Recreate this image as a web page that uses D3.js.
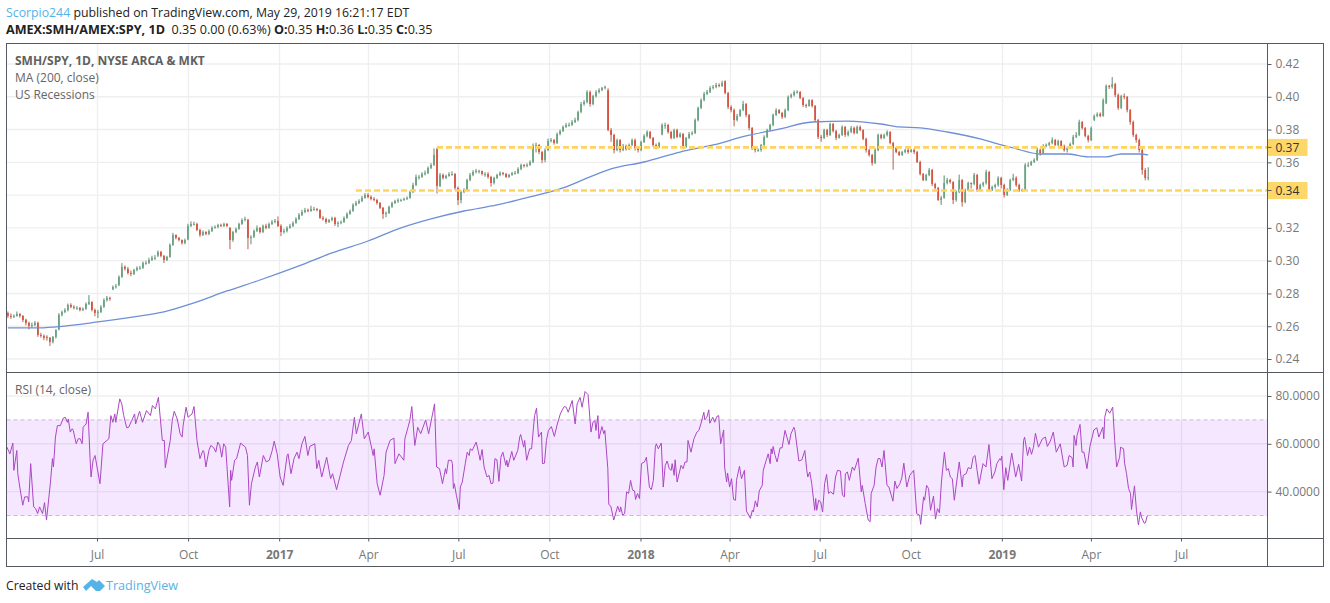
<!DOCTYPE html>
<html>
<head>
<meta charset="utf-8">
<script src="https://cdn.jsdelivr.net/npm/d3@7"></script>
<style>
  html, body { margin: 0; padding: 0; background: #fff; }
  svg { display: block; }
  text { font-family: "Open Sans", "Noto Sans", sans-serif; }
  .domain { display: none; }
</style>
</head>
<body>
<svg id="chart" width="1330" height="603"></svg>
<script>
// price values are in units of 0.0001, one candle per row slot
var opens = [
  2680,2663,2657,2663,2675,2663,2640,2620,2602,2608,
  2620,2547,2541,2535,2529,2504,2535,2580,2669,2687,
  2699,2730,2718,2712,2712,2699,2706,2736,2748,2699,
  2681,2687,2718,2760,2773,2825,2840,2850,2901,2962,
  2950,2925,2919,2944,2956,2956,2986,2986,3004,3017,
  3030,3053,3029,3004,3023,3096,3157,3139,3126,3108,
  3130,3212,3224,3224,3187,3157,3175,3163,3181,3200,
  3206,3218,3212,3224,3200,3126,3175,3194,3224,3248,
  3250,3139,3145,3181,3200,3175,3212,3200,3224,3236,
  3242,3212,3175,3181,3200,3212,3230,3254,3279,3297,
  3309,3303,3315,3315,3309,3261,3254,3236,3248,3261,
  3224,3230,3236,3261,3285,3303,3340,3352,3364,3383,
  3401,3389,3377,3370,3352,3322,3285,3291,3328,3352,
  3364,3370,3370,3377,3383,3419,3462,3511,3511,3529,
  3535,3566,3584,3680,3456,3523,3505,3517,3529,3529,
  3444,3370,3419,3431,3492,3523,3541,3547,3547,3529,
  3529,3511,3474,3505,3523,3535,3529,3511,3523,3535,
  3535,3560,3584,3578,3584,3602,3700,3706,3663,3614,
  3675,3730,3736,3718,3773,3791,3816,3828,3828,3846,
  3858,3907,3956,3968,4029,3956,4005,4029,4041,4054,
  4040,3797,3767,3675,3736,3675,3700,3681,3706,3736,
  3688,3675,3724,3761,3785,3749,3706,3694,3770,3828,
  3828,3785,3749,3797,3755,3773,3694,3749,3773,3779,
  3858,3932,3980,4017,4029,4054,4060,4072,4066,4095,
  4023,3938,3919,3858,3883,3919,3956,3889,3810,3688,
  3675,3675,3706,3755,3797,3828,3889,3919,3901,3877,
  3919,3999,4011,4029,4029,3993,3950,3944,3980,3944,
  3858,3755,3749,3797,3767,3834,3791,3749,3767,3816,
  3767,3785,3810,3779,3816,3797,3743,3675,3645,3596,
  3675,3767,3749,3767,3785,3718,3688,3663,3645,3663,
  3675,3663,3675,3663,3602,3529,3492,3523,3553,3468,
  3444,3370,3383,3474,3492,3480,3370,3419,3492,3358,
  3431,3474,3468,3523,3431,3462,3474,3541,3431,3450,
  3462,3505,3462,3401,3431,3492,3505,3462,3431,3431,
  3584,3584,3602,3614,3675,3657,3700,3706,3718,3736,
  3706,3730,3700,3675,3688,3712,3755,3767,3846,3810,
  3761,3736,3860,3883,3895,3883,3960,4066,4060,4078,
  4011,3932,4005,3999,3919,3846,3767,3736,3675,3553,
  3505
];
var highs = [
  2690,2678,2672,2690,2680,2668,2645,2628,2622,2632,
  2628,2560,2550,2545,2535,2540,2582,2680,2695,2710,
  2738,2740,2728,2722,2718,2715,2745,2790,2752,2708,
  2700,2728,2770,2785,2780,2848,2858,2910,2985,2972,
  2962,2940,2950,2965,2968,2995,3000,3018,3030,3034,
  3062,3060,3035,3030,3105,3170,3160,3145,3130,3135,
  3225,3240,3238,3232,3195,3185,3180,3190,3210,3215,
  3225,3226,3232,3230,3205,3182,3202,3232,3258,3268,
  3255,3155,3190,3215,3205,3220,3225,3232,3248,3255,
  3270,3222,3195,3210,3225,3240,3265,3290,3310,3322,
  3318,3335,3328,3322,3315,3272,3262,3255,3268,3268,
  3240,3245,3270,3295,3312,3350,3365,3375,3395,3412,
  3412,3398,3388,3378,3358,3328,3300,3335,3360,3372,
  3380,3378,3385,3392,3428,3475,3525,3522,3540,3550,
  3575,3595,3685,3690,3535,3532,3525,3540,3545,3535,
  3452,3428,3442,3500,3535,3552,3560,3555,3550,3540,
  3540,3518,3512,3530,3545,3542,3535,3530,3542,3548,
  3570,3592,3590,3595,3612,3715,3720,3712,3670,3685,
  3745,3748,3742,3782,3800,3825,3840,3842,3858,3872,
  3915,3968,3980,4040,4038,4012,4040,4052,4060,4068,
  4052,3810,3775,3745,3742,3712,3708,3715,3745,3745,
  3695,3732,3772,3795,3792,3755,3715,3725,3838,3842,
  3835,3792,3805,3805,3782,3780,3755,3785,3790,3868,
  3940,3990,4030,4042,4065,4072,4085,4082,4098,4100,
  4030,3948,3928,3895,3925,3975,3962,3895,3815,3695,
  3685,3712,3765,3805,3835,3898,3930,3925,3908,3928,
  4008,4020,4038,4040,4035,3998,3958,3985,3985,3950,
  3865,3768,3805,3805,3842,3840,3798,3775,3825,3822,
  3795,3822,3818,3825,3825,3802,3750,3682,3652,3685,
  3775,3775,3775,3795,3790,3725,3695,3670,3670,3682,
  3690,3682,3685,3670,3610,3535,3530,3565,3560,3475,
  3450,3395,3520,3505,3500,3485,3428,3525,3498,3440,
  3482,3478,3535,3530,3470,3482,3555,3548,3458,3470,
  3515,3512,3470,3442,3500,3530,3515,3470,3440,3595,
  3600,3610,3625,3690,3684,3710,3715,3726,3752,3742,
  3738,3735,3708,3695,3720,3768,3785,3860,3852,3815,
  3768,3818,3892,3905,3905,3990,4075,4072,4120,4085,
  4020,4012,4020,4005,3925,3855,3775,3745,3690,3565,
  3570
];
var lows = [
  2650,2645,2650,2658,2652,2625,2605,2580,2590,2600,
  2535,2530,2515,2512,2480,2495,2525,2575,2660,2680,
  2690,2710,2702,2700,2690,2692,2700,2730,2690,2660,
  2650,2680,2712,2750,2755,2820,2830,2845,2895,2940,
  2915,2905,2912,2935,2945,2950,2975,2980,2998,3005,
  3022,3020,2985,2998,3018,3090,3130,3118,3098,3100,
  3125,3205,3215,3180,3145,3150,3155,3155,3175,3195,
  3198,3205,3205,3205,3070,3115,3168,3188,3218,3240,
  3070,3100,3138,3175,3165,3168,3192,3195,3218,3228,
  3205,3150,3165,3172,3195,3205,3225,3248,3272,3290,
  3295,3298,3305,3300,3255,3245,3225,3230,3240,3212,
  3205,3222,3230,3255,3280,3298,3332,3345,3358,3378,
  3380,3368,3362,3342,3315,3255,3265,3285,3322,3345,
  3352,3360,3365,3370,3378,3412,3455,3495,3505,3520,
  3528,3558,3578,3410,3448,3495,3498,3512,3518,3430,
  3340,3350,3412,3425,3485,3515,3532,3532,3520,3512,
  3500,3452,3465,3498,3515,3520,3505,3505,3518,3525,
  3528,3552,3568,3570,3578,3595,3660,3650,3595,3600,
  3668,3722,3708,3712,3765,3785,3810,3818,3822,3840,
  3850,3900,3945,3960,3940,3948,3995,4020,4035,4045,
  3790,3725,3655,3668,3660,3668,3672,3675,3700,3672,
  3660,3668,3718,3752,3742,3695,3680,3688,3765,3805,
  3775,3740,3742,3748,3750,3680,3688,3742,3765,3772,
  3850,3925,3972,4010,4022,4045,4052,4058,4060,4015,
  3925,3905,3820,3850,3878,3912,3875,3795,3675,3660,
  3665,3665,3700,3748,3790,3820,3882,3895,3865,3870,
  3912,3990,4002,4020,3985,3938,3932,3940,3935,3845,
  3742,3725,3742,3755,3760,3782,3735,3745,3760,3755,
  3758,3778,3770,3772,3790,3735,3660,3635,3580,3590,
  3668,3740,3742,3758,3710,3555,3655,3638,3640,3655,
  3652,3660,3650,3595,3520,3485,3485,3515,3455,3435,
  3365,3340,3378,3465,3470,3345,3360,3412,3330,3350,
  3425,3440,3460,3420,3425,3450,3465,3425,3425,3440,
  3452,3440,3385,3395,3425,3485,3450,3420,3420,3425,
  3570,3578,3596,3608,3640,3650,3692,3700,3710,3700,
  3698,3692,3665,3660,3680,3705,3748,3760,3800,3752,
  3722,3730,3852,3875,3875,3878,3955,4048,4050,3998,
  3920,3925,3985,3905,3830,3755,3720,3660,3525,3490,
  3490
];
var closes = [
  2663,2657,2663,2675,2663,2638,2620,2602,2608,2620,
  2547,2541,2529,2529,2504,2535,2577,2669,2687,2699,
  2730,2718,2712,2712,2699,2706,2736,2748,2699,2681,
  2687,2718,2760,2773,2767,2840,2846,2901,2962,2950,
  2925,2919,2944,2956,2956,2986,2986,3004,3017,3017,
  3053,3029,3004,3023,3096,3157,3139,3126,3108,3126,
  3212,3224,3224,3187,3157,3175,3163,3181,3200,3206,
  3218,3212,3224,3212,3126,3175,3194,3224,3248,3254,
  3139,3145,3181,3200,3175,3212,3200,3224,3236,3242,
  3212,3175,3181,3200,3212,3230,3254,3279,3297,3309,
  3303,3315,3315,3309,3261,3254,3236,3248,3261,3224,
  3230,3236,3261,3285,3303,3340,3352,3364,3383,3401,
  3389,3377,3370,3352,3322,3285,3291,3328,3352,3364,
  3370,3370,3377,3383,3419,3462,3511,3511,3529,3535,
  3566,3584,3645,3456,3523,3505,3517,3529,3529,3444,
  3370,3419,3431,3492,3523,3541,3547,3547,3529,3529,
  3511,3474,3505,3523,3535,3529,3511,3523,3535,3535,
  3560,3584,3578,3584,3602,3700,3706,3663,3614,3675,
  3730,3736,3718,3773,3791,3816,3828,3828,3846,3858,
  3907,3956,3968,4029,3956,4005,4029,4041,4054,4060,
  3797,3767,3675,3736,3675,3700,3681,3706,3736,3688,
  3675,3724,3761,3785,3749,3706,3694,3718,3828,3828,
  3785,3749,3797,3755,3773,3694,3749,3773,3779,3858,
  3932,3980,4017,4029,4054,4060,4072,4066,4084,4023,
  3938,3919,3858,3883,3919,3956,3889,3810,3688,3675,
  3675,3706,3755,3797,3828,3889,3919,3901,3877,3919,
  3999,4011,4029,4029,3993,3950,3944,3980,3944,3858,
  3755,3749,3797,3767,3834,3791,3749,3767,3816,3767,
  3785,3810,3779,3816,3797,3743,3675,3645,3596,3675,
  3767,3749,3767,3785,3718,3688,3663,3645,3663,3675,
  3663,3675,3663,3602,3529,3492,3523,3553,3468,3444,
  3370,3383,3474,3492,3480,3370,3419,3492,3358,3431,
  3474,3468,3523,3431,3462,3474,3541,3431,3450,3462,
  3505,3462,3401,3431,3492,3505,3462,3431,3431,3584,
  3584,3602,3614,3675,3657,3700,3706,3718,3736,3706,
  3730,3700,3675,3688,3712,3755,3767,3846,3810,3761,
  3736,3810,3883,3895,3883,3980,4066,4060,4078,4011,
  3932,4005,3999,3919,3846,3767,3736,3675,3553,3505,
  3510
];

// 200 day MA, read at a set of candle slots
var maBars = [0,11,16,30,42,52,61,73,84,97,108,120,131,141,152,163,174,185,194,201,212,224,235,246,257,268,280,291,297,304,313,324,331,335,344,353,360,366,371,377,380];
var maValues = [2590,2590,2596,2626,2657,2687,2736,2815,2882,2968,3047,3120,3200,3255,3303,3340,3389,3444,3511,3560,3602,3663,3706,3761,3803,3846,3852,3834,3816,3810,3785,3743,3706,3688,3651,3651,3633,3633,3651,3651,3645];

// RSI, days counted from chart start
var rsiDays = [
  0,3,6,7,10,11,13,16,18,21,22,24,27,29,31,33,36,38,40,44,46,47,49,51,54,57,59,61,62,64,66,67,70,72,74,76,77,80,82,84,85,87,89,94,97,103,105,107,109,110,114,116,118,121,123,126,129,130,134,137,141,145,147,150,153,157,159,160,165,167,169,172,175,177,178,181,183,187,189,192,195,198,199,201,204,206,209,211,213,215,217,219,221,225,226,227,230,232,236,241,243,245,247,251,253,255,259,262,265,268,270,273,276,279,283,284,287,290,293,295,298,301,304,306,311,313,315,318,323,327,329,333,340,345,348,351,353,358,361,365,370,371,374,377,381,383,387,391,392,396,401,402,407,409,412,415,418,423,426,432,434,437,440,443,444,446,
  449,450,451,452,454,457,458,460,463,465,467,468,470,474,476,478,480,482,485,487,489,491,493,495,497,499,501,504,505,506,510,512,516,518,519,522,523,525,528,530,533,535,537,540,541,543,545,547,550,553,556,559,561,563,565,567,571,574,576,579,581,584,587,590,592,594,595,597,598,601,603,604,607,608,610,613,617,619,620,622,624,626,628,630,632,634,635,637,639,641,644,646,649,651,653,655,656,658,661,663,665,667,669,671,672,674,675,677,681,683,685,687,688,691,694,697,699,701,704,705,707,709,710,713,715,717,719,721,724,725,727,728,730,732,734,736,737,740,742,745,747,751,753,754,756,758,760,763,764,767,769,771,772,773,774,776,778,781,783,786,790,792,795,796,800,803,806,808,809,811,813,816,817,818,820,822,824,826,828,830,832,835,837,839,842,844,846,847,849,851,854,856,860,863,864,867,870,872,873,876,878,880,882,884,886,889,891,
  895,897,899,902,904,906,909,912,916,919,922,923,926,927,929,931,933,936,938,940,942,944,947,949,951,953,955,957,962,965,966,969,971,974,976,978,980,982,986,989,992,995,998,1000,1003,1004,1005,1007,1009,1011,1015,1019,1022,1025,1027,1028,1031,1033,1035,1037,1039,1042,1046,1049,1051,1054,1057,1060,1064,1068,1071,1073,1076,1077,1078,1080,1081,1084,1086,1088,1091,1094,1098,1101,1103,1107,1108,1109,1111,1114,1117,1119,1121,1124,1125,1128,1129,1131,1133,1135,1136,1139,1141,1143,1145,1146,1149,1150,1152
];
var rsiValues = [
  58.6,55.8,60.3,48.9,57.2,47.5,41.9,34.3,37.8,37.8,35.7,51.7,33.6,32.9,30.8,33.6,30.8,35.4,28.1,44.0,53.8,50.3,62.8,67.6,67.6,70.8,71.1,69.0,70.4,64.9,66.3,65.6,60.0,62.1,62.1,60.0,66.9,68.3,73.2,53.8,46.1,53.1,55.1,43.3,60.0,62.1,71.8,69.0,72.5,69.0,78.8,76.7,71.8,66.7,66.9,69.7,72.5,68.3,73.6,69.0,73.9,71.8,76.0,74.6,79.4,61.4,61.4,50.0,61.4,69.7,73.6,70.4,64.2,62.8,67.6,75.3,71.1,72.5,75.6,61.4,53.8,57.2,56.8,50.3,57.2,59.3,58.3,56.5,60.7,59.3,54.4,60.0,58.6,33.6,48.9,44.7,53.1,53.8,60.3,58.6,55.1,34.3,43.3,50.3,52.4,46.1,55.1,52.4,53.1,57.2,61.1,55.8,46.1,42.6,55.1,55.8,47.5,53.8,56.5,53.8,60.0,63.1,55.1,58.9,60.0,49.6,53.1,46.1,54.4,45.4,47.5,40.8,52.4,59.3,61.4,71.1,64.2,72.5,62.1,64.9,55.1,57.9,43.3,38.5,46.8,56.5,61.4,62.4,51.7,55.8,53.1,62.1,69.7,75.6,59.3,66.9,64.2,70.0,64.2,76.7,50.3,49.6,43.3,49.6,47.5,53.1,
  53.1,51.7,41.3,43.3,38.5,32.5,41.9,44.0,51.7,56.5,55.1,57.9,57.2,60.7,57.2,53.1,57.6,50.3,46.1,46.8,43.3,43.6,53.8,53.3,44.3,54.4,56.5,51.0,53.1,50.3,56.8,53.1,57.2,62.8,63.9,58.6,61.4,53.1,57.9,57.9,71.8,74.9,62.8,64.9,51.7,51.9,61.4,65.6,67.2,63.1,68.3,72.5,74.2,75.6,75.3,73.2,78.1,68.3,76.7,79.4,75.3,81.9,80.6,64.9,69.0,69.7,65.6,71.8,62.1,67.2,64.2,65.6,49.6,34.6,33.9,28.1,33.9,31.5,33.6,30.1,30.8,39.9,39.2,44.7,40.6,40.3,36.7,39.2,37.1,51.7,52.4,54.4,41.9,40.8,44.7,58.6,60.0,57.9,60.3,41.9,51.0,52.8,49.6,48.9,51.7,46.8,53.3,44.0,51.0,49.6,52.4,52.4,61.4,56.5,62.1,64.9,65.6,68.3,73.2,70.0,71.1,74.2,68.6,71.1,69.0,71.4,71.8,60.0,65.8,50.3,44.0,47.8,41.9,45.4,36.7,36.4,44.7,50.6,45.4,48.9,31.9,28.8,32.2,31.5,36.1,33.6,40.3,42.6,48.9,53.1,55.8,51.7,57.9,55.8,58.9,55.1,52.4,58.3,58.3,65.6,59.7,64.2,66.9,65.6,52.8,53.3,57.2,48.9,46.1,48.2,43.3,32.2,37.1,32.2,36.4,35.7,31.5,43.3,47.2,39.2,39.9,38.9,46.1,48.9,48.6,38.5,37.8,47.5,48.2,44.7,50.3,48.9,54.0,39.9,42.6,35.0,28.1,27.4,39.2,42.6,50.3,53.8,53.8,50.3,57.2,42.6,41.9,
  36.0,44.4,41.3,43.3,45.8,51.9,41.9,46.8,48.9,30.8,30.1,26.3,37.8,36.4,42.6,41.3,32.2,38.1,28.5,32.9,31.1,44.0,56.5,48.9,49.6,46.1,45.4,36.4,52.4,41.9,46.8,47.5,50.0,49.6,54.4,55.1,48.9,43.1,51.7,50.3,59.7,45.4,48.2,51.7,53.8,53.1,54.8,40.8,50.0,44.7,56.1,46.1,51.4,44.4,61.4,62.8,55.1,58.6,55.6,58.6,64.4,58.6,62.1,62.8,58.9,61.1,64.9,56.5,60.0,50.3,51.0,55.1,54.2,50.3,63.5,59.3,63.5,68.1,56.5,56.5,49.6,58.9,65.8,66.7,62.8,66.9,62.1,71.1,74.6,72.8,75.3,61.4,50.3,54.4,58.6,57.9,51.9,47.5,41.3,39.2,32.5,42.4,32.2,26.0,31.5,29.4,26.7,26.9,30.0
];

var priceTicks = [0.24, 0.26, 0.28, 0.30, 0.32, 0.34, 0.36, 0.38, 0.40, 0.42];
var rsiTicks = [40, 60, 80];
var rsiBand = [30, 70];
var monthTicks = ['2016-07-01', '2016-10-01', '2017-01-01', '2017-04-01', '2017-07-01', '2017-10-01', '2018-01-01', '2018-04-01', '2018-07-01', '2018-10-01', '2019-01-01', '2019-04-01', '2019-07-01'];
var monthLabels = ['Jul', 'Oct', '2017', 'Apr', 'Jul', 'Oct', '2018', 'Apr', 'Jul', 'Oct', '2019', 'Apr', 'Jul'];

// the two drawn support lines, start slot and level
var levelBars = [143, 116];
var levelValues = [0.3691, 0.3428];
var levelLabels = ['0.37', '0.34'];

var chartStart = new Date(Date.UTC(2016, 3, 1));
var barDates = closes.map(function (d, i) {
  return d3.utcMinute.offset(chartStart, 1440 + i * 4365);
});

var frameLeft = 6.5, frameRight = 1323.5, frameTop = 43.5, frameBottom = 566.5;
var axisX = 1267.5, paneSplit = 372.5, timeAxisY = 538.5;
var axisColor = '#555a62', gridColor = '#efefef', tickText = '#787878';
var upColor = '#6ba583', downColor = '#d75442';

var x = d3.scaleUtc()
  .domain([new Date(Date.UTC(2016, 6, 1)), new Date(Date.UTC(2019, 6, 1))])
  .range([97, 1181]);
var yPrice = d3.scaleLinear().domain([0.24, 0.42]).range([359, 64]);
var yRsi = d3.scaleLinear().domain([30, 80]).range([515.5, 396]);
var parseDay = d3.utcParse('%Y-%m-%d');

var svg = d3.select('#chart');

// the reference is a soft screenshot, so take the edge off the candles
svg.append('defs').append('filter').attr('id', 'soft')
  .append('feGaussianBlur').attr('stdDeviation', 0.35);

// header
var head1 = svg.append('text').attr('x', 6).attr('y', 17).style('font-size', '12.3px').attr('fill', '#222');
head1.append('tspan').attr('fill', '#55b3e8').text('Scorpio244');
head1.append('tspan').text(' published on TradingView.com, May 29, 2019 16:21:17 EDT');

var head2 = svg.append('text').attr('x', 6).attr('y', 34).style('font-size', '12.6px').attr('fill', '#222');
[['AMEX:SMH/AMEX:SPY, 1D', 1], ['  0.35 0.00 (0.63%) ', 0], ['O:', 1], ['0.35 ', 0], ['H:', 1], ['0.36 ', 0], ['L:', 1], ['0.35 ', 0], ['C:', 1], ['0.35', 0]].forEach(function (p) {
  head2.append('tspan')
    .attr('xml:space', 'preserve')
    .style('font-weight', p[1] ? 700 : 400)
    .text(p[0]);
});

// grid
var grid = svg.append('g').attr('fill', 'none').attr('stroke', gridColor).attr('stroke-width', 1.4);
grid.selectAll('.v').data(monthTicks).enter().append('line')
  .attr('x1', function (d) { return Math.round(x(parseDay(d))) + 0.5; })
  .attr('x2', function (d) { return Math.round(x(parseDay(d))) + 0.5; })
  .attr('y1', frameTop).attr('y2', timeAxisY);
grid.selectAll('.hp').data(priceTicks).enter().append('line')
  .attr('x1', frameLeft).attr('x2', axisX)
  .attr('y1', function (d) { return yPrice(d); })
  .attr('y2', function (d) { return yPrice(d); });
grid.selectAll('.hr').data(rsiTicks).enter().append('line')
  .attr('x1', frameLeft).attr('x2', axisX)
  .attr('y1', function (d) { return yRsi(d); })
  .attr('y2', function (d) { return yRsi(d); });

// RSI band
svg.append('rect')
  .attr('x', frameLeft).attr('width', axisX - frameLeft)
  .attr('y', yRsi(rsiBand[1])).attr('height', yRsi(rsiBand[0]) - yRsi(rsiBand[1]))
  .attr('fill', '#9915ff').attr('fill-opacity', 0.1);
svg.selectAll('.band').data(rsiBand).enter().append('line')
  .attr('x1', frameLeft).attr('x2', axisX)
  .attr('y1', function (d) { return yRsi(d); })
  .attr('y2', function (d) { return yRsi(d); })
  .attr('stroke', '#c8bccf').attr('stroke-dasharray', '4,3');

// candles
var candles = svg.append('g').attr('filter', 'url(#soft)').selectAll('g').data(closes).enter().append('g');
candles.append('line')
  .attr('x1', function (d, i) { return x(barDates[i]); })
  .attr('x2', function (d, i) { return x(barDates[i]); })
  .attr('y1', function (d, i) { return yPrice(highs[i] / 10000); })
  .attr('y2', function (d, i) { return yPrice(lows[i] / 10000); })
  .attr('stroke', function (d, i) { return d >= opens[i] ? '#5c8a70' : '#b5614f'; })
  .attr('stroke-width', 1);
candles.append('rect')
  .attr('x', function (d, i) { return x(barDates[i]) - 0.9; })
  .attr('width', 1.8)
  .attr('y', function (d, i) { return yPrice(Math.max(d, opens[i]) / 10000); })
  .attr('height', function (d, i) { return Math.max(1, Math.abs(yPrice(d / 10000) - yPrice(opens[i] / 10000))); })
  .attr('fill', function (d, i) { return d >= opens[i] ? upColor : downColor; });

// moving average
var maLine = d3.line()
  .x(function (d, i) { return x(barDates[maBars[i]]); })
  .y(function (d) { return yPrice(d / 10000); })
  .curve(d3.curveMonotoneX);
svg.append('path').datum(maValues)
  .attr('d', maLine)
  .attr('fill', 'none')
  .attr('stroke', '#6e8fd6')
  .attr('stroke-width', 1.3);

// RSI line
var rsiLine = d3.line()
  .x(function (d, i) { return x(d3.utcDay.offset(chartStart, rsiDays[i])); })
  .y(function (d) { return yRsi(d); });
svg.append('path').datum(rsiValues)
  .attr('d', rsiLine)
  .attr('fill', 'none')
  .attr('stroke', '#ab47c4')
  .attr('stroke-width', 1);

// support lines
svg.selectAll('.level').data(levelValues).enter().append('line')
  .attr('x1', function (d, i) { return x(barDates[levelBars[i]]); })
  .attr('x2', axisX)
  .attr('y1', function (d) { return yPrice(d); })
  .attr('y2', function (d) { return yPrice(d); })
  .attr('stroke', '#ffd45c')
  .attr('stroke-width', 2.6)
  .attr('stroke-dasharray', '6,3');

// axes
var priceAxis = d3.axisRight(yPrice).tickValues(priceTicks).tickSize(4).tickPadding(4).tickFormat(d3.format('.2f'));
svg.append('g').attr('transform', 'translate(' + axisX + ',0)').call(priceAxis);

var rsiAxis = d3.axisRight(yRsi).tickValues(rsiTicks).tickSize(4).tickPadding(4).tickFormat(d3.format('.4f'));
svg.append('g').attr('transform', 'translate(' + axisX + ',0)').call(rsiAxis);

var timeAxis = d3.axisBottom(x)
  .tickValues(monthTicks.map(parseDay))
  .tickSize(3).tickPadding(9)
  .tickFormat(function (d, i) { return monthLabels[i]; });
var timeG = svg.append('g').attr('transform', 'translate(0,' + timeAxisY + ')').call(timeAxis);
timeG.selectAll('text').style('font-weight', function (d, i) { return /^20/.test(monthLabels[i]) ? 700 : 400; });

svg.selectAll('.tick line').attr('stroke', axisColor);
svg.selectAll('.tick text').attr('fill', tickText).style('font-size', '12px').style('font-family', '"Open Sans", sans-serif');

// level labels on the axis
var levelTags = svg.selectAll('.tag').data(levelValues).enter().append('g');
levelTags.append('rect')
  .attr('x', axisX).attr('width', 40)
  .attr('y', function (d) { return yPrice(d) - 8.5; })
  .attr('height', 17)
  .attr('fill', '#fdd869');
levelTags.append('line')
  .attr('x1', axisX).attr('x2', axisX + 4)
  .attr('y1', function (d) { return yPrice(d); })
  .attr('y2', function (d) { return yPrice(d); })
  .attr('stroke', '#555a62');
levelTags.append('text')
  .attr('x', axisX + 8)
  .attr('y', function (d) { return yPrice(d) + 4.5; })
  .attr('fill', '#333')
  .style('font-size', '12px')
  .text(function (d, i) { return levelLabels[i]; });

// frame and pane lines
svg.append('rect')
  .attr('x', frameLeft).attr('y', frameTop)
  .attr('width', frameRight - frameLeft).attr('height', frameBottom - frameTop)
  .attr('fill', 'none').attr('stroke', axisColor);
[[frameLeft, paneSplit, frameRight, paneSplit], [frameLeft, timeAxisY, frameRight, timeAxisY], [axisX, frameTop, axisX, frameBottom]].forEach(function (s) {
  svg.append('line')
    .attr('x1', s[0]).attr('y1', s[1]).attr('x2', s[2]).attr('y2', s[3])
    .attr('stroke', axisColor);
});

// pane legends
svg.append('text').attr('x', 15).attr('y', 65).attr('fill', '#5f5f5f').style('font-size', '12px').style('font-weight', 700).text('SMH/SPY, 1D, NYSE ARCA & MKT');
svg.append('text').attr('x', 15).attr('y', 82).attr('fill', '#666').style('font-size', '12px').text('MA (200, close)');
svg.append('text').attr('x', 15).attr('y', 99).attr('fill', '#666').style('font-size', '12px').text('US Recessions');
svg.append('text').attr('x', 15).attr('y', 394).attr('fill', '#666').style('font-size', '12px').text('RSI (14, close)');

// footer
svg.append('text').attr('x', 6).attr('y', 590).attr('fill', '#222').style('font-size', '12.2px').text('Created with');
svg.append('path')
  .attr('d', 'M83 587 L92 579 L97 582 L99 580 L105 586 L100 591 L96 591 L91 586 L86 591 Z')
  .attr('fill', '#55b3e8');
svg.append('text').attr('x', 106).attr('y', 590).attr('fill', '#55b3e8').style('font-size', '12.6px').text('TradingView');
</script>
</body>
</html>
